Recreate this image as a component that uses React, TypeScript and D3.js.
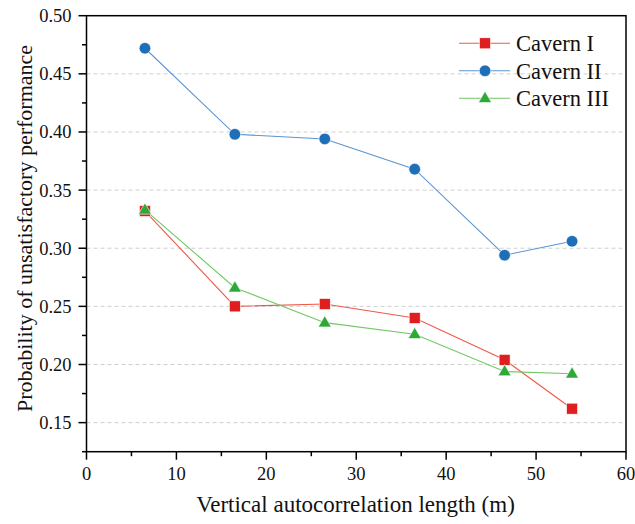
import React from "react";
import * as d3 from "d3";

const lengths = [6.5, 16.5, 26.5, 36.5, 46.5, 54];
const cavernI = [0.332, 0.25, 0.252, 0.24, 0.204, 0.162];
const cavernII = [0.472, 0.398, 0.394, 0.368, 0.294, 0.306];
const cavernIII = [0.333, 0.266, 0.236, 0.226, 0.194, 0.192];
const seriesNames = ["Cavern I", "Cavern II", "Cavern III"];
const xTicks = [0, 10, 20, 30, 40, 50, 60];
const yTicks = [0.15, 0.2, 0.25, 0.3, 0.35, 0.4, 0.45, 0.5];

const W = 635;
const H = 524;
const M = { left: 86.5, right: 9, top: 15.7, bottom: 72.3 };
const FONT = "'Liberation Serif', 'Times New Roman', serif";

type Shape = "square" | "circle" | "triangle";
const styles: { line: string; fill: string; shape: Shape }[] = [
  { line: "#ee5a48", fill: "#df1f1f", shape: "square" },
  { line: "#5b95d3", fill: "#1f6fb8", shape: "circle" },
  { line: "#72c765", fill: "#2ea836", shape: "triangle" },
];

function Marker({ x, y, shape, fill }: { x: number; y: number; shape: Shape; fill: string }) {
  if (shape === "square")
    return <rect x={x - 5.5} y={y - 5.5} width={11} height={11} fill={fill} stroke="#fff" strokeWidth={0.6} />;
  if (shape === "circle")
    return <circle cx={x} cy={y} r={5.8} fill={fill} stroke="#fff" strokeWidth={0.6} />;
  const s = 13;
  const h = s * 0.866;
  const pts = [
    [x, y - h * 0.62],
    [x - s / 2, y + h * 0.38],
    [x + s / 2, y + h * 0.38],
  ];
  return <polygon points={pts.map((p) => p.join(",")).join(" ")} fill={fill} stroke="#fff" strokeWidth={0.6} />;
}

export default function App() {
  const x = d3.scaleLinear().domain([0, 60]).range([M.left, W - M.right]);
  const y = d3.scaleLinear().domain([0.125, 0.5]).range([H - M.bottom, M.top]);
  const data = [cavernI, cavernII, cavernIII];
  const line = d3
    .line<number>()
    .x((_, i) => x(lengths[i]))
    .y((d) => y(d));

  const x0 = x(0);
  const x1 = x(60);
  const yb = y(0.125);
  const yt = y(0.5);
  const xMinor = d3.range(5, 60, 10);
  const yMinor = d3.range(0.125, 0.5, 0.05);

  return (
    <svg width={W} height={H} style={{ position: "absolute", left: 0, top: 0 }} fontFamily={FONT}>
      <rect width={W} height={H} fill="#fff" />
      {/* horizontal dashed gridlines */}
      {yTicks
        .filter((t) => t < 0.5)
        .map((t) => (
          <line key={"g" + t} x1={x0} x2={x1} y1={y(t)} y2={y(t)} stroke="#cfcfcf" strokeWidth={1} strokeDasharray="4,3" />
        ))}
      {/* series lines */}
      {data.map((d, i) => (
        <path key={"l" + i} d={line(d) || ""} fill="none" stroke={styles[i].line} strokeWidth={1.1} />
      ))}
      {/* markers */}
      {data.map((d, i) =>
        d.map((v, j) => (
          <Marker key={"m" + i + "-" + j} x={x(lengths[j])} y={y(v)} shape={styles[i].shape} fill={styles[i].fill} />
        ))
      )}
      {/* frame */}
      <rect x={x0} y={yt} width={x1 - x0} height={yb - yt} fill="none" stroke="#000" strokeWidth={1.5} />
      {/* y axis ticks */}
      {yTicks.map((t) => (
        <g key={"yt" + t}>
          <line x1={x0 - 8} x2={x0} y1={y(t)} y2={y(t)} stroke="#000" strokeWidth={1.5} />
          <text x={x0 - 15} y={y(t)} dy="0.35em" textAnchor="end" fontSize={18.5} fill="#111">
            {t.toFixed(2)}
          </text>
        </g>
      ))}
      {yMinor.map((t) => (
        <line key={"ym" + t} x1={x0 - 4.5} x2={x0} y1={y(t)} y2={y(t)} stroke="#000" strokeWidth={1.5} />
      ))}
      {/* x axis ticks */}
      {xTicks.map((t) => (
        <g key={"xt" + t}>
          <line x1={x(t)} x2={x(t)} y1={yb} y2={yb + 8} stroke="#000" strokeWidth={1.5} />
          <text x={x(t)} y={480} textAnchor="middle" fontSize={18.5} fill="#111">
            {t}
          </text>
        </g>
      ))}
      {xMinor.map((t) => (
        <line key={"xm" + t} x1={x(t)} x2={x(t)} y1={yb} y2={yb + 4.5} stroke="#000" strokeWidth={1.5} />
      ))}
      {/* axis titles */}
      <text x={355.5} y={512} textAnchor="middle" fontSize={23} fill="#111">
        Vertical autocorrelation length (m)
      </text>
      <text
        transform={`translate(31.5, 228.5) rotate(-90)`}
        textAnchor="middle"
        fontSize={22}
        fill="#111"
      >
        Probability of unsatisfactory performance
      </text>
      {/* legend */}
      {seriesNames.map((name, i) => {
        const ly = 43.3 + i * 27.5;
        return (
          <g key={"lg" + i}>
            <line x1={459} x2={510} y1={ly} y2={ly} stroke={styles[i].line} strokeWidth={1.1} />
            <Marker x={485} y={ly} shape={styles[i].shape} fill={styles[i].fill} />
            <text x={516} y={ly} dy="0.35em" fontSize={22.5} fill="#111">
              {name}
            </text>
          </g>
        );
      })}
    </svg>
  );
}
